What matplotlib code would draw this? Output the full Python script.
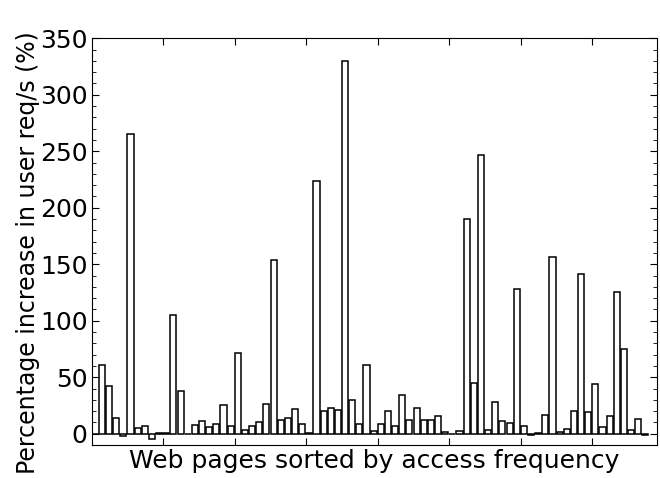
import numpy as np
import matplotlib.pyplot as plt
from matplotlib.ticker import MultipleLocator

# percentage increase per page (pages sorted by access frequency)
pages = np.arange(78)
increase = [0, 61, 42, 14, -2, 265, 5, 7, -5, 1,
            0.5, 105, 38, 0, 8, 11, 6, 9, 25, 6.5,
            71, 3.5, 7, 10, 26, 154, 12, 14, 22, 8.5,
            1, 224, 20, 22.5, 21, 330, 30, 9, 61, 2.5,
            9, 20, 7, 34, 12, 23, 12, 12.5, 15.5, 1.5,
            0, 2.7, 190, 45, 247, 3.5, 28.5, 11, 9.5, 128,
            7, -1.5, 1, 16.5, 156, 1.2, 4, 20.5, 141, 19.5,
            44, 6, 16, 125, 75, 3.5, 13, -1]

fig = plt.figure(figsize=(6.6, 4.78), dpi=100)
ax = fig.add_axes([0.139, 0.069, 0.856, 0.851])

ax.bar(pages, increase, width=0.85, align='edge', color='white',
       edgecolor='black', linewidth=1.1)

ax.set_xlim(0, 79)
ax.set_ylim(-10, 350)
ax.set_xticks(np.arange(10, 71, 10))
ax.set_xticklabels([])
ax.yaxis.set_major_locator(MultipleLocator(50))
ax.yaxis.set_minor_locator(MultipleLocator(10))
ax.tick_params(which='both', direction='in', top=True, right=True)
ax.tick_params(which='major', length=5, labelsize=18, pad=3)
ax.tick_params(which='minor', length=3)
ax.tick_params(axis='x', which='minor', bottom=False, top=False)

ax.set_xlabel('Web pages sorted by access frequency', fontsize=18, labelpad=0)
ax.set_ylabel('Percentage increase in user req/s (%)', fontsize=17)
ax.yaxis.set_label_coords(-0.091, 0.474)

fig.savefig('out.png', dpi=100)
